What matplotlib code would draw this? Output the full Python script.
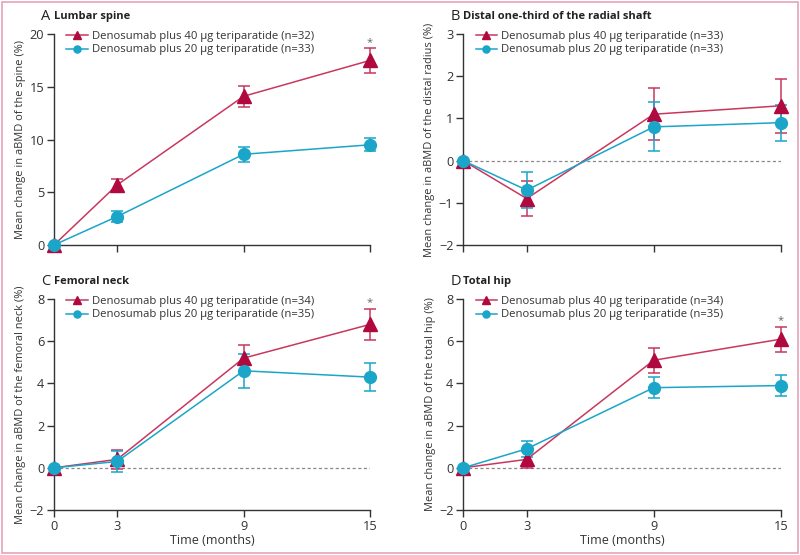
import matplotlib.pyplot as plt
from matplotlib.patches import Rectangle

plt.rcParams['font.family'] = ['Open Sans', 'DejaVu Sans']

# Data
months = [0, 3, 9, 15]
xtick_labels = ['0', '3', '9', '15']

spine_40 = [0, 5.7, 14.1, 17.5]
spine_40_err = [0, 0.6, 1.0, 1.2]
spine_20 = [0, 2.7, 8.6, 9.5]
spine_20_err = [0, 0.5, 0.7, 0.6]

radius_40 = [0, -0.9, 1.1, 1.3]
radius_40_err = [0, 0.42, 0.62, 0.64]
radius_20 = [0, -0.7, 0.8, 0.9]
radius_20_err = [0, 0.42, 0.58, 0.43]

neck_40 = [0, 0.4, 5.2, 6.8]
neck_40_err = [0, 0.45, 0.6, 0.75]
neck_20 = [0, 0.3, 4.6, 4.3]
neck_20_err = [0, 0.5, 0.8, 0.67]

hip_40 = [0, 0.4, 5.1, 6.1]
hip_40_err = [0, 0.4, 0.6, 0.6]
hip_20 = [0, 0.9, 3.8, 3.9]
hip_20_err = [0, 0.37, 0.5, 0.5]

RED = '#b0093f'
RED_LINE = '#c8385e'
CYAN = '#1aa5c9'
DARK = '#333333'

fig = plt.figure(figsize=(8, 5.55), dpi=100)

panels = [
    # letter, title, ylabel, y40, e40, y20, e20, n40, n20, yticks, star, pos
    ('A', 'Lumbar spine', 'Mean change in aBMD of the spine (%)',
     spine_40, spine_40_err, spine_20, spine_20_err, 32, 33,
     [0, 5, 10, 15, 20], True, [0.0675, 0.5586, 0.395, 0.380]),
    ('B', 'Distal one-third of the radial shaft', 'Mean change in aBMD of the distal radius (%)',
     radius_40, radius_40_err, radius_20, radius_20_err, 33, 33,
     [-2, -1, 0, 1, 2, 3], False, [0.5790, 0.5586, 0.397, 0.380]),
    ('C', 'Femoral neck', 'Mean change in aBMD of the femoral neck (%)',
     neck_40, neck_40_err, neck_20, neck_20_err, 34, 35,
     [-2, 0, 2, 4, 6, 8], True, [0.0675, 0.0811, 0.395, 0.380]),
    ('D', 'Total hip', 'Mean change in aBMD of the total hip (%)',
     hip_40, hip_40_err, hip_20, hip_20_err, 34, 35,
     [-2, 0, 2, 4, 6, 8], True, [0.5790, 0.0811, 0.397, 0.380]),
]

for i, (letter, title, ylabel, y40, e40, y20, e20, n40, n20, yticks, star, pos) in enumerate(panels):
    ax = fig.add_axes(pos)
    ax.set_xlim(0, 15)
    ax.set_ylim(yticks[0], yticks[-1])

    if yticks[0] < 0:
        ax.axhline(0, color='#888888', lw=0.9, ls=(0, (2.5, 2)), zorder=1)

    ax.errorbar(months, y40, yerr=e40, fmt='none', ecolor=RED_LINE, elinewidth=1.1,
                capsize=4.5, capthick=1.1, zorder=2, clip_on=False)
    ax.errorbar(months, y20, yerr=e20, fmt='none', ecolor=CYAN, elinewidth=1.1,
                capsize=4.5, capthick=1.1, zorder=2, clip_on=False)
    ax.plot(months, y40, color=RED_LINE, lw=1.1, marker='^', ms=10.5,
            mfc=RED, mec=RED, zorder=3, clip_on=False,
            label=f'Denosumab plus 40 \u03bcg teriparatide (n={n40})')
    ax.plot(months, y20, color=CYAN, lw=1.1, marker='o', ms=8.5,
            mfc=CYAN, mec=CYAN, zorder=4, clip_on=False,
            label=f'Denosumab plus 20 \u03bcg teriparatide (n={n20})')

    if star:
        ax.annotate('*', xy=(15, y40[3] + e40[3]), xytext=(0, 0), textcoords='offset points',
                    ha='center', va='bottom', fontsize=8, color='#666666')

    for s in ['top', 'right']:
        ax.spines[s].set_visible(False)
    for s in ['left', 'bottom']:
        ax.spines[s].set_color(DARK)
        ax.spines[s].set_linewidth(1.0)

    ax.set_xticks(months)
    ax.set_yticks(yticks)
    ax.tick_params(colors=DARK, labelsize=9.2, length=5, width=1.0, pad=2)
    if i >= 2:
        ax.set_xticklabels(xtick_labels)
        ax.set_xlabel('Time (months)', fontsize=9, color=DARK, labelpad=1)
    else:
        ax.set_xticklabels([])

    ax.set_ylabel(ylabel, fontsize=7.9, color=DARK, labelpad=2.5)

    ax.text(-0.04, 1.085, letter, transform=ax.transAxes, fontsize=10.5,
            color='#222222', ha='left', va='center')
    ax.text(0.0, 1.085, title, transform=ax.transAxes, fontsize=8,
            fontweight='bold', color='#222222', ha='left', va='center')

    leg = ax.legend(loc='upper left', bbox_to_anchor=(0.025, 1.035), frameon=False,
                    fontsize=8.1, handlelength=1.9, handletextpad=0.35,
                    labelspacing=0.2, borderaxespad=0, markerscale=0.6)
    for t in leg.get_texts():
        t.set_color('#333333')

fig.add_artist(Rectangle((0.003, 0.004), 0.994, 0.992, transform=fig.transFigure,
                         fill=False, edgecolor='#e6a3b7', lw=1.2))

fig.savefig('out.png', dpi=100)
